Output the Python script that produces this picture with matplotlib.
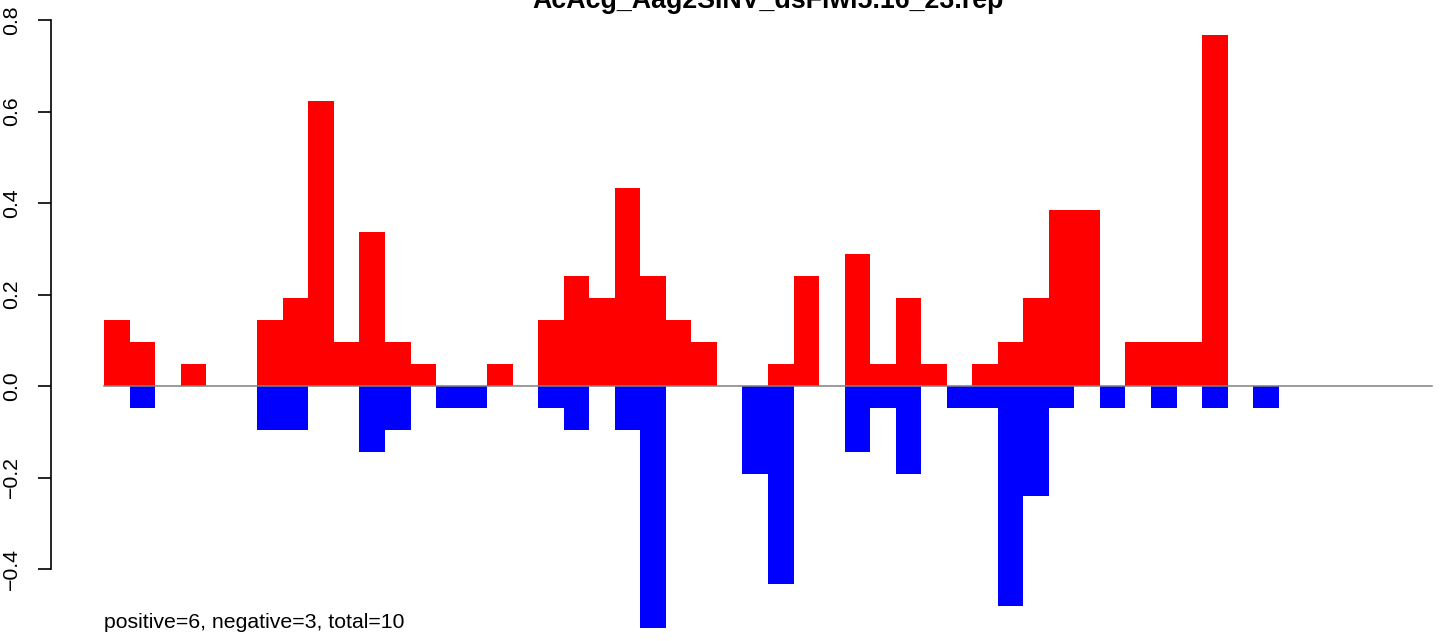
import matplotlib.pyplot as plt
import numpy as np

plt.rcParams['font.family'] = ['Liberation Sans', 'DejaVu Sans']

title = "AcAcg_Aag2SINV_dsFlwi5.16_23.rep"
note = "positive=6, negative=3, total=10"

# one value per bin, 52 bins
positive = [0.144, 0.096, 0, 0.048, 0, 0, 0.144, 0.192, 0.624, 0.096,
            0.336, 0.096, 0.048, 0, 0, 0.048, 0, 0.144, 0.24, 0.192,
            0.432, 0.24, 0.144, 0.096, 0, 0, 0.048, 0.24, 0, 0.288,
            0.048, 0.192, 0.048, 0, 0.048, 0.096, 0.192, 0.384, 0.384, 0,
            0.096, 0.096, 0.096, 0.768, 0, 0, 0, 0, 0, 0,
            0, 0]
negative = [0, -0.048, 0, 0, 0, 0, -0.096, -0.096, 0, 0,
            -0.144, -0.096, 0, -0.048, -0.048, 0, 0, -0.048, -0.096, 0,
            -0.096, -0.528, 0, 0, 0, -0.192, -0.432, 0, 0, -0.144,
            -0.048, -0.192, 0, -0.048, -0.048, -0.48, -0.24, -0.048, 0, -0.048,
            0, -0.048, 0, -0.048, 0, -0.048, 0, 0, 0, 0,
            0, 0]
yticks = [-0.4, -0.2, 0.0, 0.2, 0.4, 0.6, 0.8]

W, H = 1444, 641
fig = plt.figure(figsize=(W / 100, H / 100), dpi=100)
# plot region runs past the right edge like the cropped original
ax = fig.add_axes([51 / W, 0, 1434 / W, 1])

n = len(positive)
x = np.arange(n)
ax.bar(x, positive, width=1, align='edge', color='#ff0000', linewidth=0)
ax.bar(x, negative, width=1, align='edge', color='#0000ff', linewidth=0)
ax.plot([0, n], [0, 0], color='#808080', lw=1.1, zorder=3)

ax.set_xlim(-0.04 * n, n * 1.04)
ax.set_ylim(-255 / 457.5, 386 / 457.5)

for s in ['top', 'right', 'bottom']:
    ax.spines[s].set_visible(False)
ax.spines['left'].set_bounds(-0.4, 0.8)
ax.spines['left'].set_linewidth(1.2)
ax.set_xticks([])
ax.set_yticks(yticks)
ax.set_yticklabels([f"{v:.1f}".replace("-", "\u2212") for v in yticks],
                   rotation=90, va='center', fontsize=15.3)
ax.tick_params(axis='y', length=9.4, width=1.2, pad=12)

ax.text(0, -0.518, note, ha='left', va='center', fontsize=15.3)
# title sits mostly above the cropped top edge, as in the original
fig.text(768 / W, 1 - 8 / H, title, ha='center', va='baseline',
         fontsize=19.3, fontweight='bold')

fig.savefig('out.png', dpi=100)
